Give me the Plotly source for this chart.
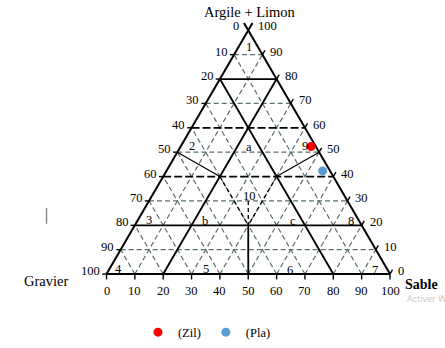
import plotly.graph_objects as go

# ---------------- data (ternary: A = Argile + Limon %, S = Sable %, G = Gravier = 100 - A - S)
grid_levels = [10, 20, 30, 40, 50, 60, 70, 80, 90]
grey_rows = [10, 30, 50, 70, 90]
black_dashed_rows = [40, 60]
solid_rows = [20, 80]

# zone boundary segments, each ((S, A), (S, A))
solid_segments = [((20, 0), (20, 80)), ((80, 0), (0, 80)), ((50, 0), (40, 20))]
thin_segments = [((0, 50), (20, 40)), ((50, 50), (40, 40))]
dashed_segments = [((20, 40), (40, 20)), ((40, 40), (40, 20)), ((35, 30), (40, 20))]

tick_values = [0, 10, 20, 30, 40, 50, 60, 70, 80, 90, 100]
bottom_labels = ["0", "10", "20", "30", "40", "50", "60", "70", "80", "90", "100"]
side_values = [0, 10, 20, 30, 40, 50, 60, 70, 80, 90]
left_labels = ["100", "90", "80", "70", "60", "50", "40", "30", "20", "10"]
right_labels = ["0", "10", "20", "30", "40", "50", "60", "70", "80", "90"]

# zone labels: (text, S, A)
zone_names = ["1", "2", "a", "9", "10", "3", "b", "c", "8", "4", "5", "6", "7"]
zone_S = [3.5, 3.5, 23.95, 43.5, 33.95, 3.7, 23.5, 54.7, 75.0, 3.1, 33.8, 63.5, 93.6]
zone_A = [93.7, 53.0, 52.7, 53.0, 32.7, 22.6, 22.4, 22.2, 22.2, 2.6, 2.6, 2.2, 2.2]

# samples
sample_names = ["(Zil)", "(Pla)"]
sample_A = [52.3, 42.3]
sample_S = [46.0, 55.1]
sample_colors = ["#ff0000", "#5b9bd5"]


def xy(S, A):
    return S + A / 2.0, A


def seg_trace(segs, color, width, dash):
    xs, ys = [], []
    for (p, q) in segs:
        x0, y0 = xy(*p)
        x1, y1 = xy(*q)
        xs += [x0, x1, None]
        ys += [y0, y1, None]
    return go.Scatter(x=xs, y=ys, mode="lines", hoverinfo="skip", showlegend=False,
                      line=dict(color=color, width=width, dash=dash))


fig = go.Figure()

# grey dashed grid
grey = []
for k in grid_levels:
    grey.append(((k, 0), (k, 100 - k)))          # constant Sable
    grey.append(((100 - k, 0), (0, 100 - k)))    # constant Gravier
for k in grey_rows:
    grey.append(((0, k), (100 - k, k)))          # constant Argile+Limon
fig.add_trace(seg_trace(grey, "#5a6e70", 1.2, "5px,3px"))

# black dashed rows
fig.add_trace(seg_trace([((0, k), (100 - k, k)) for k in black_dashed_rows], "#000000", 1.7, "8px,3px"))
fig.add_trace(seg_trace(dashed_segments, "#000000", 1.3, "4px,3px"))

# solid lines
fig.add_trace(seg_trace([((0, k), (100 - k, k)) for k in solid_rows], "#000000", 1.8, "solid"))
fig.add_trace(seg_trace(solid_segments, "#000000", 1.8, "solid"))
fig.add_trace(seg_trace(thin_segments, "#000000", 1.2, "solid"))

# triangle outline with apex cross
outline = [((0, 0), (100, 0)), ((0, 0), (0, 103)), ((100, 0), (-3, 103))]
fig.add_trace(seg_trace(outline, "#000000", 2.0, "solid"))

# side ticks
ticks = []
for v in side_values:
    ticks.append(((0, v), (-1.5, v)))
    ticks.append(((100 - v, v), (100 - v, v + 1.8)))
fig.add_trace(seg_trace(ticks, "#000000", 1.4, "solid"))
# vertical bottom ticks
bx, by = [], []
for v in tick_values:
    x, y = xy(v, 0)
    bx += [x, x, None]
    by += [0, -2.2, None]
fig.add_trace(go.Scatter(x=bx, y=by, mode="lines", hoverinfo="skip", showlegend=False,
                         line=dict(color="#000000", width=1.4)))

# samples
for n, a, s, c in zip(sample_names, sample_A, sample_S, sample_colors):
    x, y = xy(s, a)
    fig.add_trace(go.Scatter(x=[x], y=[y], mode="markers", name=n,
                             marker=dict(color=c, size=9, line=dict(width=0))))

ann = []
font_num = dict(family="Liberation Serif", size=12.5, color="#000000")
for v, t in zip(tick_values, bottom_labels):
    x, y = xy(v, 0)
    ann.append(dict(x=x, y=-6.8, text=t, showarrow=False, font=font_num,
                    xanchor="center", yanchor="middle"))
for v, t in zip(side_values, left_labels):
    x, y = xy(0, v)
    ann.append(dict(x=x - 1.5, y=v + 1.2, text=t, showarrow=False, font=font_num,
                    xanchor="right", yanchor="middle"))
for v, t in zip(side_values, right_labels):
    x, y = xy(100 - v, v)
    ann.append(dict(x=x + 2.1, y=v + 1.2, text=t, showarrow=False, font=font_num,
                    xanchor="left", yanchor="middle"))
ann.append(dict(x=45.7, y=101.8, text="0", showarrow=False, font=font_num))
ann.append(dict(x=56.8, y=101.8, text="100", showarrow=False, font=font_num))
for t, s, a in zip(zone_names, zone_S, zone_A):
    x, y = xy(s, a)
    ann.append(dict(x=x, y=y - 0.5, text=t, showarrow=False, font=font_num))

ann.append(dict(x=50.5, y=107.3, text="Argile + Limon", showarrow=False,
                font=dict(family="Liberation Serif", size=14.5, color="#000000")))
ann.append(dict(x=-21.5, y=-3.0, text="Gravier", showarrow=False,
                font=dict(family="Liberation Serif", size=14.5, color="#000000")))
ann.append(dict(x=111.2, y=-4.3, text="<b>Sable</b>", showarrow=False,
                font=dict(family="Liberation Serif", size=14, color="#000000")))
ann.append(dict(x=105.3, y=-10.0, text="Activer Windows", showarrow=False, xanchor="left",
                font=dict(family="Open Sans", size=9, color="#c8c8c8")))

px0, kx = 106.5, 2.835
py0, ky = 280.5, 2.495
fig.update_layout(
    width=445, height=348,
    margin=dict(l=0, r=0, t=0, b=0),
    paper_bgcolor="white", plot_bgcolor="white",
    xaxis=dict(range=[-px0 / kx, (445 - px0) / kx], visible=False, fixedrange=True),
    yaxis=dict(range=[(py0 - 348) / ky, py0 / ky], visible=False, fixedrange=True),
    annotations=ann,
    showlegend=True,
    legend=dict(orientation="h", x=0.31, y=0.022, xanchor="left", yanchor="middle",
                font=dict(family="Liberation Serif", size=12.5, color="#000000"),
                bgcolor="rgba(0,0,0,0)", itemclick=False, itemdoubleclick=False),
    shapes=[dict(type="line", xref="paper", yref="paper", x0=46.5 / 445, x1=46.5 / 445,
                 y0=1 - 213 / 348, y1=1 - 229 / 348, line=dict(color="#8a8a8a", width=1.5))],
)

fig.write_html("out.html")
